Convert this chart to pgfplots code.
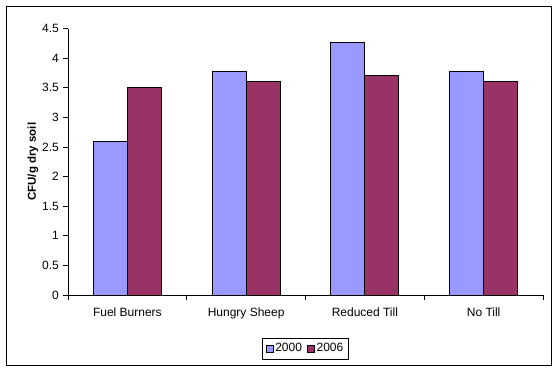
\documentclass[border=0pt]{standalone}
\usepackage{fontspec}
\setmainfont{Liberation Sans}
\usepackage{pgfplots}
\pgfplotsset{compat=1.18}
\definecolor{c2000}{HTML}{9999FF}
\definecolor{c2006}{HTML}{993366}
\begin{document}
\fontsize{12pt}{14pt}\selectfont
\begin{tikzpicture}
\useasboundingbox (-68pt,-75pt) rectangle (489pt,295pt);
\draw[black, line width=0.9pt] (-62pt,-70pt) rectangle (483pt,289pt);
\begin{axis}[
  at={(0pt,0pt)}, anchor=south west,
  scale only axis, width=475pt, height=266.5pt,
  ybar=0pt, bar width=34pt,
  xmin=-0.5, xmax=3.5, ymin=0, ymax=4.5,
  axis lines*=left,
  axis line style={line width=0.8pt},
  xtick={0,1,2,3},
  xticklabels={Fuel Burners, Hungry Sheep, Reduced Till, No Till},
  minor xtick={-0.5,0.5,1.5,2.5,3.5},
  major x tick style={draw=none},
  minor tick length=5pt, major tick length=5pt,
  tick align=outside,
  tick style={black, line width=0.8pt},
  ytick={0,0.5,...,4.5},
  yticklabel style={/pgf/number format/fixed, /pgf/number format/precision=1, font=\fontsize{12pt}{14pt}\selectfont},
  xticklabel style={font=\fontsize{12pt}{14pt}\selectfont, yshift=-4pt},
  /pgf/number format/assume math mode=true,
  ylabel={CFU/g dry soil},
  ylabel style={font=\bfseries\fontsize{11.5pt}{13pt}\selectfont, at={(axis description cs:-0.0737,0.5)}, anchor=center, rotate=0},
  legend style={at={(axis description cs:0.5,0)}, anchor=center, yshift=-53.5pt,
    legend columns=2, draw=black, line width=0.8pt, font=\fontsize{12pt}{14pt}\selectfont,
    /tikz/every even column/.append style={column sep=3pt}, inner sep=3.5pt},
  legend image code/.code={\draw[#1, draw=black, line width=0.6pt] (0pt,-3.5pt) rectangle (7pt,3.5pt);},
]
\addplot[fill=c2000, draw=black, line width=0.8pt] coordinates {(0,2.6) (1,3.78) (2,4.26) (3,3.78)};
\addplot[fill=c2006, draw=black, line width=0.8pt] coordinates {(0,3.5) (1,3.6) (2,3.7) (3,3.6)};
\legend{2000, 2006}
\end{axis}
\end{tikzpicture}
\end{document}
